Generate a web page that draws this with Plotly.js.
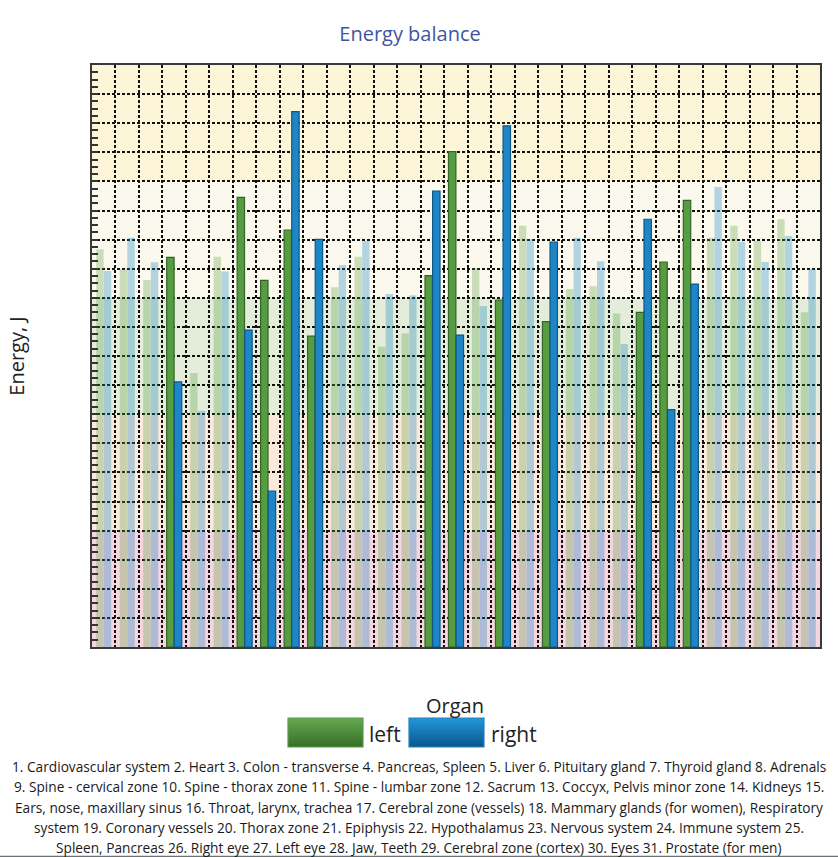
<!DOCTYPE html>
<html>
<head>
<meta charset="utf-8">
<script src="https://cdn.plot.ly/plotly-3.0.1.min.js"></script>
<style>
  html, body { margin: 0; padding: 0; background: #ffffff; }
  #chart { width: 838px; height: 857px; }
</style>
</head>
<body>
<div id="chart"></div>
<script>
// ---- data ----
const organNumbers = [1,2,3,4,5,6,7,8,9,10,11,12,13,14,15,16,17,18,19,20,21,22,23,24,25,26,27,28,29,30,31];
const organNames = [
  "Cardiovascular system","Heart","Colon - transverse","Pancreas, Spleen","Liver",
  "Pituitary gland","Thyroid gland","Adrenals","Spine - cervical zone","Spine - thorax zone",
  "Spine - lumbar zone","Sacrum","Coccyx, Pelvis minor zone","Kidneys","Ears, nose, maxillary sinus",
  "Throat, larynx, trachea","Cerebral zone (vessels)","Mammary glands (for women), Respiratory system",
  "Coronary vessels","Thorax zone","Epiphysis","Hypothalamus","Nervous system","Immune system",
  "Spleen, Pancreas","Right eye","Left eye","Jaw, Teeth","Cerebral zone (cortex)","Eyes","Prostate (for men)"
];
const leftEnergy = [13.67,12.98,12.61,13.39,9.42,13.41,15.45,12.60,14.33,10.68,
                    12.36,13.41,10.32,10.78,12.76,17.02,13.01,11.92,14.48,11.18,
                    12.30,12.40,11.46,11.50,13.23,15.35,14.06,14.48,13.95,14.70,11.50];
const rightEnergy = [12.92,14.06,13.22,9.11,8.12,12.90,10.89,5.36,18.40,14.01,
                     13.13,13.95,12.13,12.09,15.67,10.72,11.72,17.91,14.01,13.91,
                     14.06,13.26,10.41,14.70,8.16,12.47,15.81,13.93,13.23,14.12,13.00];
const highlighted = [4,7,8,9,10,15,16,18,20,24,25,26];
const seriesNames = ["left","right"];
const footnoteLines = [
  "1. Cardiovascular system 2. Heart 3. Colon - transverse 4. Pancreas, Spleen 5. Liver 6. Pituitary gland 7. Thyroid gland 8. Adrenals",
  "9. Spine - cervical zone 10. Spine - thorax zone 11. Spine - lumbar zone 12. Sacrum 13. Coccyx, Pelvis minor zone 14. Kidneys 15.",
  "Ears, nose, maxillary sinus 16. Throat, larynx, trachea 17. Cerebral zone (vessels) 18. Mammary glands (for women), Respiratory",
  "system 19. Coronary vessels 20. Thorax zone 21. Epiphysis 22. Hypothalamus 23. Nervous system 24. Immune system 25.",
  "Spleen, Pancreas 26. Right eye 27. Left eye 28. Jaw, Teeth 29. Cerebral zone (cortex) 30. Eyes 31. Prostate (for men)"
];

// ---- styling ----
const FONT = "'Open Sans', 'Noto Sans', sans-serif";
const isHi = organNumbers.map(n => highlighted.includes(n));
function fills(rgb, alphaFaded) {
  return isHi.map(h => h ? `rgb(${rgb})` : `rgba(${rgb},${alphaFaded})`);
}
function lines(rgb) {
  return isHi.map(h => h ? `rgb(${rgb})` : 'rgba(0,0,0,0)');
}
const greenRGB = "86,156,64", greenLine = "52,100,40";
const blueRGB = "30,134,198", blueLine = "12,88,138";

const traces = [
  {
    type: 'bar', name: seriesNames[0], x: organNumbers, y: leftEnergy,
    text: organNames, hovertemplate: '%{x}. %{text}<br>left: %{y}<extra></extra>',
    textposition: 'none',
    marker: { color: fills(greenRGB, 0.3), line: { color: lines(greenLine), width: 1.2 } }
  },
  {
    type: 'bar', name: seriesNames[1], x: organNumbers, y: rightEnergy,
    text: organNames, hovertemplate: '%{x}. %{text}<br>right: %{y}<extra></extra>',
    textposition: 'none',
    marker: { color: fills(blueRGB, 0.33), line: { color: lines(blueLine), width: 1.2 } }
  }
];

// plot area in px: x 92..820, y 65..647
const PL = 92, PR = 820, PT = 65, PB = 647;
const px = v => (v - PL) / (PR - PL);
const py = v => (PB - v) / (PB - PT);

const bands = [
  [0, 4, '#f5d6df'],
  [4, 8, '#fbeadb'],
  [8, 12, '#e3edd9'],
  [12, 16, '#fbf9ee'],
  [16, 20, '#fcf5d8']
];
const shapes = bands.map(b => ({
  type: 'rect', xref: 'paper', yref: 'y', x0: 0, x1: 1, y0: b[0], y1: b[1],
  fillcolor: b[2], line: { width: 0 }, layer: 'below'
}));

// custom legend swatches (vertical gradient emulated with overlapping slices)
function swatch(x0, x1, y0, y1, top, bottom, border) {
  const n = 10, out = [];
  for (let i = 0; i < n; i++) {
    const t = i / (n - 1);
    const c = top.map((v, k) => Math.round(v + (bottom[k] - v) * t));
    const ya = y0 + (y1 - y0) * i / n;
    out.push({ type: 'rect', xref: 'paper', yref: 'paper', x0: px(x0), x1: px(x1),
      y0: py(ya), y1: py(y1), fillcolor: `rgb(${c.join(',')})`, line: { width: 0 } });
  }
  out.push({ type: 'rect', xref: 'paper', yref: 'paper', x0: px(x0), x1: px(x1),
    y0: py(y0), y1: py(y1), fillcolor: 'rgba(0,0,0,0)', line: { color: border, width: 1.2 } });
  return out;
}
shapes.push(...swatch(288, 363, 718, 747, [100,166,78], [56,114,42], '#5a9a48'));
shapes.push(...swatch(409, 484, 718, 747, [32,148,212], [12,90,146], '#2a80b8'));
// bottom grey strip at the very edge
shapes.push({ type: 'line', xref: 'paper', yref: 'paper', x0: px(0), x1: px(838),
  y0: py(856.6), y1: py(856.6), line: { color: '#6b7075', width: 1.5 } });

const annotations = [
  { xref: 'paper', yref: 'paper', x: px(455), y: py(705), text: 'Organ', showarrow: false,
    xanchor: 'center', yanchor: 'middle', font: { family: FONT, size: 20, color: '#222' } },
  { xref: 'paper', yref: 'paper', x: px(367), y: py(734), text: seriesNames[0], showarrow: false,
    xanchor: 'left', yanchor: 'middle', font: { family: FONT, size: 21, color: '#222' } },
  { xref: 'paper', yref: 'paper', x: px(489), y: py(734), text: seriesNames[1], showarrow: false,
    xanchor: 'left', yanchor: 'middle', font: { family: FONT, size: 21, color: '#222' } }
];
const lineY = [766.5, 786.8, 807.1, 827.4, 847.5];
footnoteLines.forEach((t, i) => {
  annotations.push({ xref: 'paper', yref: 'paper', x: px(419), y: py(lineY[i]), text: t,
    showarrow: false, xanchor: 'center', yanchor: 'middle',
    font: { family: FONT, size: 13.7, color: '#1a1a1a' } });
});

const layout = {
  width: 838, height: 857,
  margin: { l: PL, r: 838 - PR, t: PT, b: 857 - PB, pad: 0 },
  paper_bgcolor: '#ffffff', plot_bgcolor: 'rgba(0,0,0,0)',
  title: { text: 'Energy balance', x: 410 / 838, xref: 'container', xanchor: 'center',
    y: 1 - 34 / 857, yref: 'container', yanchor: 'middle',
    font: { family: FONT, size: 20, color: '#3f55a3' } },
  showlegend: false,
  barmode: 'group', bargap: 0.35, bargroupgap: 0.03,
  xaxis: {
    range: [0.5, 31.5], tick0: 0.5, dtick: 1, showticklabels: false, ticks: '',
    showgrid: true, gridcolor: '#111', gridwidth: 1.5, griddash: '3px,2px',
    zeroline: false, showline: true, linecolor: '#3a3a3a', linewidth: 2, mirror: true,
    fixedrange: true
  },
  yaxis: {
    range: [0, 20], tick0: 0, dtick: 1, showticklabels: false,
    ticks: 'inside', ticklen: 6, tickwidth: 2, tickcolor: '#333',
    minor: { dtick: 0.25, ticks: 'inside', ticklen: 6, tickwidth: 2, tickcolor: '#333', showgrid: false },
    showgrid: true, gridcolor: '#111', gridwidth: 1.5, griddash: '3px,2px',
    zeroline: false, showline: true, linecolor: '#3a3a3a', linewidth: 2, mirror: true,
    title: { text: 'Energy, J', standoff: 60, font: { family: FONT, size: 20, color: '#222' } },
    automargin: false, fixedrange: true
  },
  shapes: shapes,
  annotations: annotations
};

Plotly.newPlot('chart', traces, layout, { displayModeBar: false, staticPlot: false });
</script>
</body>
</html>
